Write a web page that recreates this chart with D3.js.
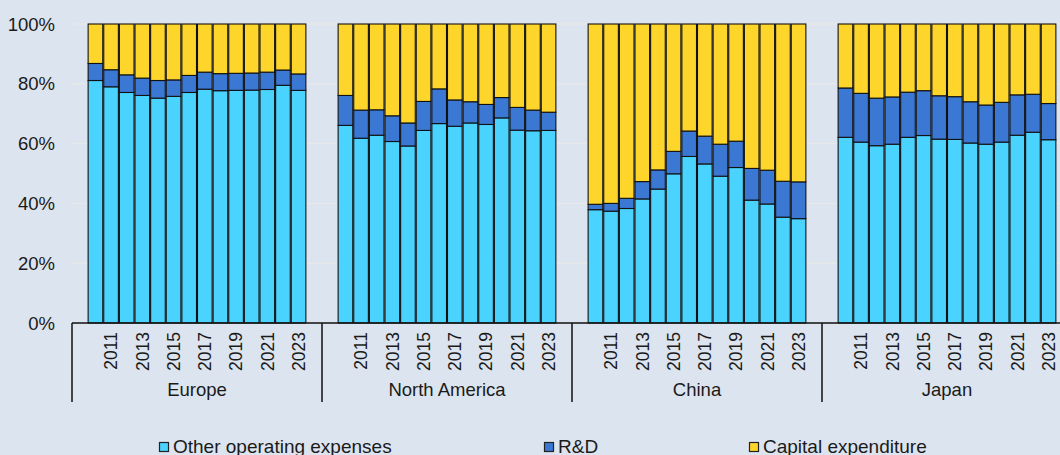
<!DOCTYPE html>
<html>
<head>
<meta charset="utf-8">
<script src="https://cdn.jsdelivr.net/npm/d3@7"></script>
<style>
  html, body { margin: 0; padding: 0; background: #dce4ef; }
  svg { display: block; font-family: "Liberation Sans", Arial, sans-serif; }
</style>
</head>
<body>
<svg id="chart" width="1060" height="455"></svg>
<script>
const regions = ["Europe", "North America", "China", "Japan"];
const years = [2010, 2011, 2012, 2013, 2014, 2015, 2016, 2017, 2018, 2019, 2020, 2021, 2022, 2023];
const yearTickLabels = ["2011", "2013", "2015", "2017", "2019", "2021", "2023"];
const seriesNames = ["Other operating expenses", "R&D", "Capital expenditure"];
const yTicks = [0, 20, 40, 60, 80, 100];

const otherEurope = [81.1, 79.0, 77.1, 76.1, 75.2, 75.8, 77.1, 78.2, 77.7, 77.8, 77.9, 78.1, 79.5, 77.8];
const rdEurope    = [5.7, 5.7, 5.9, 5.8, 5.9, 5.5, 5.7, 5.7, 5.7, 5.7, 5.7, 5.8, 5.1, 5.5];
const capexEurope = [13.2, 15.3, 17.0, 18.1, 18.9, 18.7, 17.2, 16.1, 16.6, 16.5, 16.4, 16.1, 15.4, 16.7];

const otherNA = [66.1, 61.8, 62.8, 60.7, 59.2, 64.4, 66.7, 65.8, 66.9, 66.4, 68.6, 64.5, 64.3, 64.4];
const rdNA    = [10.0, 9.4, 8.5, 8.6, 7.7, 9.7, 11.6, 8.8, 7.1, 6.7, 6.8, 7.6, 6.9, 6.1];
const capexNA = [23.9, 28.8, 28.7, 30.7, 33.1, 25.9, 21.7, 25.4, 26.0, 26.9, 24.6, 27.9, 28.8, 29.5];

const otherChina = [37.9, 37.4, 38.3, 41.5, 44.8, 49.9, 55.7, 53.2, 49.1, 52.0, 41.1, 39.8, 35.4, 34.9];
const rdChina    = [1.8, 2.6, 3.4, 5.8, 6.4, 7.5, 8.5, 9.3, 10.7, 8.8, 10.6, 11.3, 12.0, 12.3];
const capexChina = [60.3, 60.0, 58.3, 52.7, 48.8, 42.6, 35.8, 37.5, 40.2, 39.2, 48.3, 48.9, 52.6, 52.8];

const otherJapan = [62.1, 60.5, 59.3, 59.8, 62.1, 62.7, 61.5, 61.4, 60.2, 59.8, 60.5, 62.8, 63.8, 61.3];
const rdJapan    = [16.5, 16.3, 15.9, 15.8, 15.1, 15.0, 14.5, 14.3, 13.8, 13.1, 13.3, 13.5, 12.7, 12.1];
const capexJapan = [21.4, 23.2, 24.8, 24.4, 22.8, 22.3, 24.0, 24.3, 26.0, 27.1, 26.2, 23.7, 23.5, 26.6];

const colors = ["#4ad3fe", "#3b78d4", "#fed52b"];

const regionData = {
  "Europe": [otherEurope, rdEurope, capexEurope],
  "North America": [otherNA, rdNA, capexNA],
  "China": [otherChina, rdChina, capexChina],
  "Japan": [otherJapan, rdJapan, capexJapan]
};

// build rows
const rows = [];
regions.forEach(r => {
  years.forEach((yr, i) => {
    const row = { region: r, year: yr };
    seriesNames.forEach((s, k) => { row[s] = regionData[r][k][i]; });
    rows.push(row);
  });
});

const svg = d3.select("#chart");
const plotLeft = 72, plotRight = 1060, plotTop = 24, plotBottom = 323;

const x0 = d3.scaleBand().domain(regions).range([plotLeft, plotLeft + 1000]).padding(0);
const slots = ["padStart", ...years.map(String), "padEnd"];
const x1 = d3.scaleBand().domain(slots).range([0, x0.bandwidth()]).padding(0);
const y = d3.scaleLinear().domain([0, 100]).range([plotBottom, plotTop]);

// gridlines
svg.append("g").selectAll("line").data(yTicks.filter(d => d > 0)).join("line")
  .attr("x1", plotLeft).attr("x2", plotRight)
  .attr("y1", d => y(d)).attr("y2", d => y(d))
  .attr("stroke", "#e6e8ea").attr("stroke-width", 1.5);

// y labels
svg.append("g").selectAll("text").data(yTicks).join("text")
  .attr("x", 55).attr("y", d => y(d)).attr("dy", "0.36em")
  .attr("text-anchor", "end").attr("font-size", 18.5).attr("fill", "#1a1a1a")
  .text(d => d + "%");

// stacked bars
const stack = d3.stack().keys(seriesNames);
const stacked = stack(rows);
const gBars = svg.append("g");
stacked.forEach((layer, k) => {
  gBars.append("g").attr("fill", colors[k]).selectAll("rect").data(layer).join("rect")
    .attr("x", d => x0(d.data.region) + x1(String(d.data.year)) + 0.5)
    .attr("width", x1.bandwidth() - 1)
    .attr("y", d => y(d[1]))
    .attr("height", d => y(d[0]) - y(d[1]))
    .attr("stroke", "#111").attr("stroke-width", 1.1);
});

// x axis line
svg.append("line").attr("x1", plotLeft).attr("x2", plotRight).attr("y1", plotBottom).attr("y2", plotBottom)
  .attr("stroke", "#111").attr("stroke-width", 1.5);

// group separators
svg.append("g").selectAll("line").data(regions).join("line")
  .attr("x1", d => x0(d)).attr("x2", d => x0(d))
  .attr("y1", plotBottom).attr("y2", 402)
  .attr("stroke", "#111").attr("stroke-width", 1.5);

// year tick labels
const tickData = [];
regions.forEach(r => yearTickLabels.forEach(t => tickData.push({ region: r, year: t })));
svg.append("g").selectAll("text").data(tickData).join("text")
  .attr("transform", d => `translate(${x0(d.region) + x1(d.year) + x1.bandwidth() / 2},332) rotate(-90)`)
  .attr("dy", "0.36em").attr("text-anchor", "end")
  .attr("font-size", 17.5).attr("fill", "#1a1a1a")
  .text(d => d.year);

// region labels
svg.append("g").selectAll("text").data(regions).join("text")
  .attr("x", d => x0(d) + x0.bandwidth() / 2).attr("y", 396)
  .attr("text-anchor", "middle").attr("font-size", 18.5).attr("fill", "#1a1a1a")
  .text(d => d);

// legend
const legendX = [159, 544, 749];
const lg = svg.append("g").selectAll("g").data(seriesNames).join("g")
  .attr("transform", (d, i) => `translate(${legendX[i]},0)`);
lg.append("rect").attr("x", 0.5).attr("y", 442.5).attr("width", 9).attr("height", 9)
  .attr("fill", (d, i) => colors[i]).attr("stroke", "#222").attr("stroke-width", 1.2);
lg.append("text").attr("x", 14).attr("y", 452.5)
  .attr("font-size", 19).attr("fill", "#1a1a1a").text(d => d);
</script>
</body>
</html>
